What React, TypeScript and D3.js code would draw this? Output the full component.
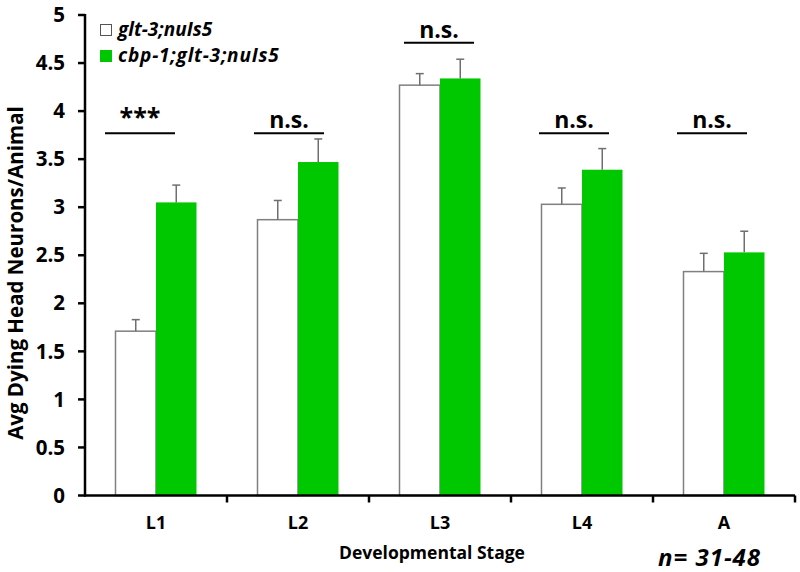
import React from "react";
import * as d3 from "d3";

const stages = ["L1", "L2", "L3", "L4", "A"];
const seriesNames = ["glt-3;nuIs5", "cbp-1;glt-3;nuIs5"];
const wildValues = [1.71, 2.87, 4.27, 3.03, 2.33];
const wildErr = [0.12, 0.2, 0.12, 0.17, 0.19];
const mutantValues = [3.05, 3.47, 4.34, 3.39, 2.53];
const mutantErr = [0.18, 0.24, 0.2, 0.22, 0.22];
const sigLabels = ["***", "n.s.", "n.s.", "n.s.", "n.s."];
const sigLevels = [3.77, 3.77, 4.71, 3.77, 3.77];
const yTicks = [0, 0.5, 1, 1.5, 2, 2.5, 3, 3.5, 4, 4.5, 5];

const W = 800;
const H = 572;
const left = 85;
const right = 795;
const top = 15;
const bottom = 495.5;
const font = "'Open Sans', Lato, sans-serif";
const sigOffsets = [-16, -9, -1, -8, -12];

export default function App() {
  const x = d3.scaleBand<string>().domain(stages).range([left, right]).paddingInner(0).paddingOuter(0);
  const y = d3.scaleLinear().domain([0, 5]).range([bottom, top]);
  const bw = x.bandwidth();
  const barW = 40.5;
  const gap = (bw - 2 * barW) / 2;
  const series = [
    { values: wildValues, err: wildErr, fill: "#ffffff", stroke: "#7f7f7f" },
    { values: mutantValues, err: mutantErr, fill: "#00c800", stroke: "none" },
  ];
  return (
    <svg width={W} height={H} style={{ position: "absolute", left: 0, top: 0, background: "#fff" }}>
      {series.map((s, si) =>
        stages.map((st, i) => {
          const x0 = (x(st) as number) + gap + si * barW;
          const yv = y(s.values[i]);
          const ye = y(s.values[i] + s.err[i]);
          const cx = x0 + barW / 2;
          return (
            <g key={`${si}-${i}`}>
              <rect
                x={x0}
                y={yv}
                width={barW}
                height={bottom - yv}
                fill={s.fill}
                stroke={s.stroke}
                strokeWidth={1.5}
              />
              <line x1={cx} x2={cx} y1={yv} y2={ye} stroke="#6f6f6f" strokeWidth={1.5} />
              <line x1={cx - 4} x2={cx + 4} y1={ye} y2={ye} stroke="#6f6f6f" strokeWidth={1.5} />
            </g>
          );
        })
      )}
      {/* axes */}
      <line x1={left} x2={left} y1={top - 1} y2={bottom + 1} stroke="#000" strokeWidth={2.5} />
      <line x1={left - 1} x2={right} y1={bottom} y2={bottom} stroke="#000" strokeWidth={2.5} />
      {yTicks.map((t) => (
        <g key={t}>
          <line x1={left - 7} x2={left} y1={y(t)} y2={y(t)} stroke="#000" strokeWidth={2.5} />
          <text
            x={65}
            y={y(t)}
            dy="0.35em"
            textAnchor="end"
            fontFamily={font}
            fontWeight="bold"
            fontSize={20.5}
          >
            {String(t)}
          </text>
        </g>
      ))}
      {stages.map((st) => (
        <line
          key={"xt" + st}
          x1={(x(st) as number) + bw}
          x2={(x(st) as number) + bw}
          y1={bottom}
          y2={bottom + 7}
          stroke="#000"
          strokeWidth={2.5}
        />
      ))}
      {stages.map((st) => (
        <text
          key={"xl" + st}
          x={(x(st) as number) + bw / 2}
          y={529}
          textAnchor="middle"
          fontFamily={font}
          fontWeight="bold"
          fontSize={18}
        >
          {st}
        </text>
      ))}
      <text x={432} y={559} textAnchor="middle" fontFamily={font} fontWeight="bold" fontSize={17.5}>
        Developmental Stage
      </text>
      <text
        transform={`translate(23,273) rotate(-90)`}
        textAnchor="middle"
        fontFamily={font}
        fontWeight="bold"
        fontSize={20.5}
      >
        Avg Dying Head Neurons/Animal
      </text>
      {/* significance */}
      {stages.map((st, i) => {
        const cx = (x(st) as number) + bw / 2 + sigOffsets[i];
        const ly = y(sigLevels[i]);
        const star = sigLabels[i] === "***";
        return (
          <g key={"sig" + st}>
            <line x1={cx - 35} x2={cx + 35} y1={ly} y2={ly} stroke="#000" strokeWidth={2} />
            <text
              x={cx}
              y={star ? ly - 7 : ly - 5}
              textAnchor="middle"
              fontFamily={font}
              fontWeight="bold"
              fontSize={star ? 25 : 23}
            >
              {sigLabels[i]}
            </text>
          </g>
        );
      })}
      {/* legend */}
      <rect x={100.5} y={24.5} width={11} height={11} fill="#fff" stroke="#555" strokeWidth={1} />
      <rect x={100} y={50} width={12} height={12} fill="#00c800" />
      <text x={118} y={36} fontFamily={font} fontWeight="bold" fontStyle="italic" fontSize={19}>
        {seriesNames[0]}
      </text>
      <text x={118} y={62} fontFamily={font} fontWeight="bold" fontStyle="italic" fontSize={19} letterSpacing={0.8}>
        {seriesNames[1]}
      </text>
      <text x={658} y={566} fontFamily={font} fontWeight="bold" fontStyle="italic" fontSize={24} letterSpacing={1}>
        n= 31-48
      </text>
    </svg>
  );
}
